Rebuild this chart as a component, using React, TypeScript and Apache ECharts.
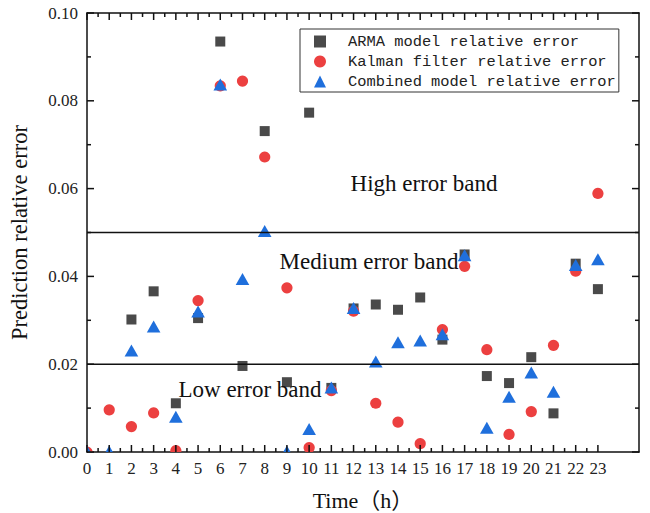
import React, { useEffect, useRef } from "react";
import * as echarts from "echarts";

const hours = [0, 1, 2, 3, 4, 5, 6, 7, 8, 9, 10, 11, 12, 13, 14, 15, 16, 17, 18, 19, 20, 21, 22, 23];
const armaError = [null, null, 0.0302, 0.0366, 0.0111, 0.0305, 0.0935, 0.0196, 0.0731, 0.0159, 0.0773, 0.0146, 0.0327, 0.0336, 0.0324, 0.0352, 0.0256, 0.045, 0.0173, 0.0157, 0.0216, 0.0088, 0.0429, 0.0371];
const kalmanError = [0, 0.0096, 0.0058, 0.0089, 0.0003, 0.0345, 0.0834, 0.0845, 0.0672, 0.0374, 0.001, 0.014, 0.0321, 0.0111, 0.0068, 0.0019, 0.0279, 0.0423, 0.0233, 0.004, 0.0092, 0.0243, 0.0412, 0.0589];
const combinedError = [0, 0, 0.023, 0.0285, 0.0079, 0.0319, 0.0836, 0.0393, 0.0502, 0, 0.0051, 0.0146, 0.0327, 0.0205, 0.0249, 0.0253, 0.0267, 0.0447, 0.0054, 0.0125, 0.018, 0.0136, 0.0425, 0.0438];
const seriesNames = ["ARMA model relative error", "Kalman filter relative error", "Combined model relative error"];
const bandThresholds = [0.05, 0.02];
const bandLabels = ["High error band", "Medium error band", "Low error band"];
const yMajorTicks = [0, 0.02, 0.04, 0.06, 0.08, 0.1];
const yMinorTicks = [0.01, 0.03, 0.05, 0.07, 0.09];

const serif = "'Liberation Serif', 'Noto Sans CJK SC', serif";
const mono = "'Liberation Mono', 'DejaVu Sans Mono', monospace";
const colors = ["#4a4a4a", "#ec4040", "#1f6fdc"];
const shapes = ["rect", "circle", "triangle"];
const INK = "#111";

export default function App() {
  const ref = useRef<HTMLDivElement>(null);
  useEffect(() => {
    if (!ref.current) return;
    const chart = echarts.init(ref.current, undefined, { renderer: "svg" });
    const pairs = (vals: (number | null)[]) =>
      hours.map((h, i) => (vals[i] === null ? null : [h, vals[i]])).filter((p) => p !== null);
    const halfTicks = hours.slice(0, -1).map((h) => h + 0.5);
    const xMax = 24.85;
    const ls = { color: INK, width: 1.5 };

    const makeRender = (shape: string, color: string) => (params: any, api: any) => {
      const p = api.coord([api.value(0), api.value(1)]);
      const style = { fill: color };
      if (shape === "rect") {
        return { type: "rect", shape: { x: p[0] - 5, y: p[1] - 5, width: 10, height: 10 }, style };
      }
      if (shape === "circle") {
        return { type: "circle", shape: { cx: p[0], cy: p[1], r: 5.6 }, style };
      }
      return {
        type: "polygon",
        shape: { points: [[p[0], p[1] - 6.5], [p[0] + 6.8, p[1] + 5.5], [p[0] - 6.8, p[1] + 5.5]] },
        style,
      };
    };

    const bandText = (i: number, x: number, y: number) => ({
      type: "text",
      id: "band" + i,
      x,
      y,
      z: 100,
      style: { text: bandLabels[i], fontFamily: serif, fontSize: 23, fill: INK, align: "center", verticalAlign: "middle" },
    });
    const texts = [bandText(0, 424, 183), bandText(1, 369, 261), bandText(2, 250, 389)];

    const option: any = {
      animation: false,
      grid: { left: 87, right: 11, top: 13, bottom: 61, outerBoundsMode: "none", containLabel: false },
      legend: {
        orient: "vertical",
        left: 300,
        top: 29,
        padding: [5, 3, 3, 14],
        itemWidth: 12,
        itemHeight: 12,
        itemGap: 5,
        borderColor: "#333",
        borderWidth: 1,
        borderRadius: 0,
        textStyle: { fontFamily: mono, fontSize: 15.4, color: "#222", lineHeight: 15, padding: [0, 0, 0, 17] },
        data: seriesNames.map((n, i) => ({ name: n, icon: shapes[i], itemStyle: { color: colors[i] } })),
      },
      xAxis: [
        {
          type: "value",
          min: 0,
          max: xMax,
          position: "bottom",
          splitLine: { show: false },
          axisLine: { show: true, onZero: false, lineStyle: ls },
          axisTick: { show: false },
          name: "Time（h）",
          nameLocation: "middle",
          nameGap: 37,
          nameTextStyle: { fontFamily: serif, fontSize: 22, color: INK },
          axisLabel: { show: true, customValues: hours, fontFamily: serif, fontSize: 17, color: "#222", margin: 8 },
        },
        {
          type: "value",
          min: 0,
          max: xMax,
          position: "top",
          splitLine: { show: false },
          axisLine: { show: true, onZero: false, lineStyle: ls },
          axisTick: { show: false },
          axisLabel: { show: false },
        },
      ],
      yAxis: [
        {
          type: "value",
          min: 0,
          max: 0.1,
          interval: 0.02,
          position: "left",
          splitLine: { show: false },
          axisLine: { show: true, onZero: false, lineStyle: ls },
          axisTick: { show: false },
          name: "Prediction relative error",
          nameLocation: "middle",
          nameGap: 56,
          nameTextStyle: { fontFamily: serif, fontSize: 22.5, color: INK },
          axisLabel: {
            show: true,
            fontFamily: serif,
            fontSize: 17,
            color: "#222",
            margin: 9,
            formatter: (v: number) => v.toFixed(2),
          },
        },
        {
          type: "value",
          min: 0,
          max: 0.1,
          interval: 0.02,
          position: "right",
          splitLine: { show: false },
          axisLine: { show: true, onZero: false, lineStyle: ls },
          axisTick: { show: false },
          axisLabel: { show: false },
        },
      ],
      series: [armaError, kalmanError, combinedError].map((vals, i) => ({
        name: seriesNames[i],
        type: "custom",
        clip: true,
        itemStyle: { color: colors[i] },
        data: pairs(vals),
        encode: { x: 0, y: 1 },
        renderItem: makeRender(shapes[i], colors[i]),
        z: 2 + i,
      })),
      graphic: texts,
    };
    chart.setOption(option);

    // band lines and inside ticks on all four sides, placed through the chart's own scales
    const toPx = (x: number, y: number) => chart.convertToPixel({ gridIndex: 0 }, [x, y]) as number[];
    const [left, bottom] = toPx(0, 0);
    const [right, top] = toPx(xMax, 0.1);
    const els: any[] = [];
    const bar = (x: number, y: number, w: number, h: number) =>
      els.push({ type: "rect", silent: true, z: 50, shape: { x, y, width: w, height: h }, style: { fill: INK } });
    bandThresholds.forEach((t) => {
      const y = toPx(0, t)[1];
      bar(left, y - 0.75, right - left, 1.5);
    });
    const addX = (v: number, len: number) => {
      const x = toPx(v, 0)[0];
      bar(x - 0.75, bottom - len, 1.5, len);
      bar(x - 0.75, top, 1.5, len);
    };
    const addY = (v: number, len: number) => {
      const y = toPx(0, v)[1];
      bar(left, y - 0.75, len, 1.5);
      bar(right - len, y - 0.75, len, 1.5);
    };
    hours.forEach((h) => addX(h, 7));
    halfTicks.forEach((h) => addX(h, 4));
    yMajorTicks.forEach((v) => addY(v, 7));
    yMinorTicks.forEach((v) => addY(v, 4));
    chart.setOption({ graphic: [...texts, ...els] });

    return () => chart.dispose();
  }, []);
  return <div ref={ref} style={{ width: 650, height: 513, position: "absolute", left: 0, top: 0 }} />;
}
